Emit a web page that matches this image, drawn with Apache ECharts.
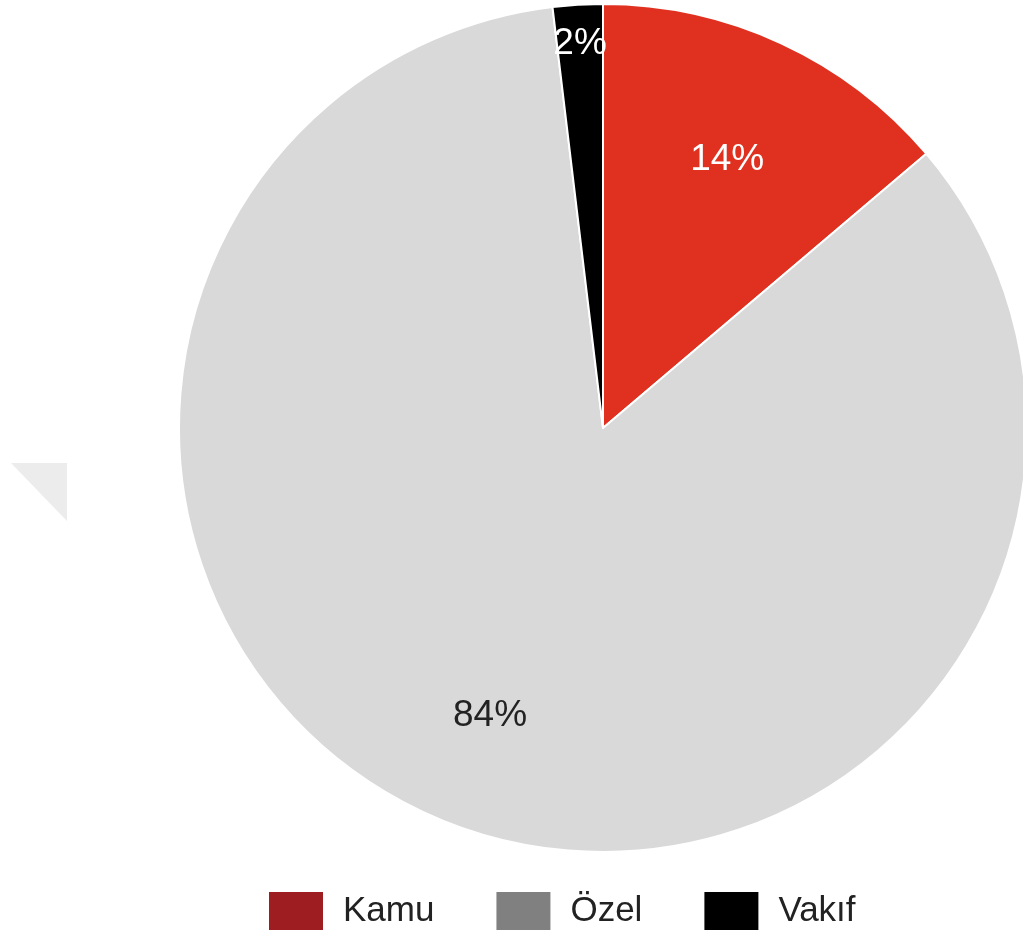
<!DOCTYPE html>
<html>
<head>
<meta charset="utf-8">
<script src="https://cdn.jsdelivr.net/npm/echarts@6/dist/echarts.min.js"></script>
<style>
  html, body { margin: 0; padding: 0; background: #fff; }
  #main { width: 1023px; height: 938px; }
</style>
</head>
<body>
<div id="main"></div>
<script>
var categories = ['Kamu', 'Özel', 'Vakıf'];
var values = [13.8, 84.3, 1.9];
var sliceColors = ['#e03120', '#d9d9d9', '#000000'];
var legendColors = ['#9e1d20', '#808080', '#000000'];
var labelColors = ['#ffffff', '#222222', '#ffffff'];
// inner radius (share of R) of the invisible ring that carries each label
var labelInner = [0.38, 0.445, 0.8];

var chart = echarts.init(document.getElementById('main'));

var center = [603, 428];
var R = 424;

function pctLabel(p) {
    return Math.round(p.percent) + '%';
}

// main slices
var pieData = [];
for (var i = 0; i < categories.length; i++) {
    pieData.push({
        name: categories[i],
        value: values[i],
        itemStyle: { color: sliceColors[i] }
    });
}

var series = [{
    type: 'pie',
    center: center,
    radius: R,
    startAngle: 90,
    clockwise: true,
    label: { show: false },
    labelLine: { show: false },
    itemStyle: { borderColor: '#ffffff', borderWidth: 2 },
    emphasis: { disabled: true },
    data: pieData
}];

// one invisible ring per label, so each label sits at its own distance
for (var k = 0; k < categories.length; k++) {
    var d = [];
    for (var j = 0; j < categories.length; j++) {
        d.push({
            name: categories[j],
            value: values[j],
            label: { show: j === k, color: labelColors[j] }
        });
    }
    series.push({
        type: 'pie',
        center: center,
        radius: [R * labelInner[k], R],
        startAngle: 90,
        silent: true,
        itemStyle: { color: 'rgba(0,0,0,0)' },
        label: {
            position: 'inside',
            formatter: pctLabel,
            fontFamily: 'Liberation Sans',
            fontSize: 37
        },
        labelLine: { show: false },
        emphasis: { disabled: true },
        data: d
    });
}

var option = {
    backgroundColor: '#ffffff',
    animation: false,
    legend: {
        top: 890,
        left: 267,
        padding: 0,
        itemWidth: 56,
        itemHeight: 40,
        itemGap: 60,
        icon: 'rect',
        selectedMode: false,
        textStyle: {
            fontFamily: 'Liberation Sans',
            fontSize: 35,
            color: '#222',
            padding: [0, 0, 0, 14]
        },
        data: categories.map(function (c, i) {
            return { name: c, itemStyle: { color: legendColors[i] } };
        })
    },
    graphic: [{
        type: 'polygon',
        shape: { points: [[11, 463], [67, 463], [67, 521]] },
        style: { fill: '#ececec' },
        silent: true
    }],
    series: series
};

chart.setOption(option);
</script>
</body>
</html>
